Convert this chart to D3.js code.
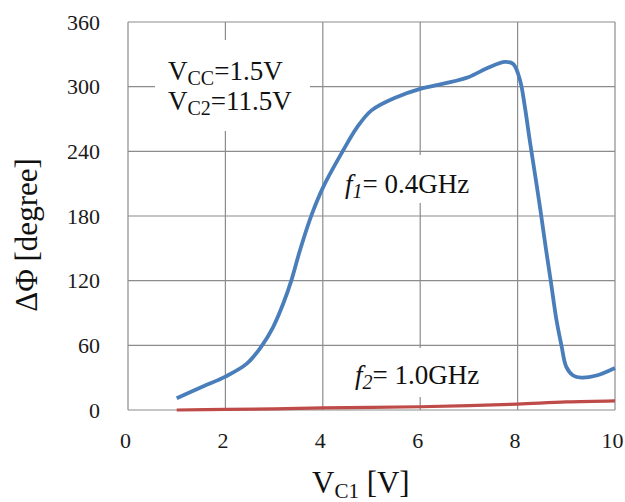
<!DOCTYPE html>
<html>
<head>
<meta charset="utf-8">
<script src="https://cdn.jsdelivr.net/npm/d3@7"></script>
<style>
  body { margin: 0; background: #fff; }
  text, tspan { font-family: 'Liberation Serif', 'Times New Roman', serif; }
</style>
</head>
<body>
<svg width="625" height="502" font-family="Liberation Serif"></svg>
<script>
// data
const f1Vc1 = [1, 1.55, 2, 2.44, 2.74, 2.98, 3.19, 3.36, 3.53, 3.77, 4.01, 4.42, 4.7, 5, 5.5, 6, 6.5, 7, 7.37, 7.74, 7.91, 8.05, 8.15, 8.25, 8.37, 8.47, 8.58, 8.68, 8.8, 8.9, 9, 9.14, 9.31, 9.62, 10];
const f1Phase = [11, 22, 31, 43, 59, 77, 99, 121, 148, 181, 207, 241, 262, 278, 290, 298, 303, 309, 317, 323, 321, 306, 281, 250, 215, 185, 150, 120, 83, 60, 40, 32, 30, 32, 39];
const f2Vc1 = [1, 2, 3, 4, 5, 6, 7, 8, 9, 10];
const f2Phase = [0, 0.5, 1, 2, 2.5, 3, 4, 5.5, 7.5, 8.5];
const xTicks = [0, 2, 4, 6, 8, 10];
const yTicks = [0, 60, 120, 180, 240, 300, 360];

const svg = d3.select('svg');
const width = +svg.attr('width');
const height = +svg.attr('height');
const serif = 'Liberation Serif';

const margin = { top: 22, right: 10, bottom: 92, left: 128 },
    innerWidth = width - margin.left - margin.right,
    innerHeight = height - margin.top - margin.bottom;

const gridColor = '#8c8c8c';

const xScale = d3.scaleLinear().domain([0, 10]).range([0, innerWidth]);
const yScale = d3.scaleLinear().domain([0, 360]).range([innerHeight, 0]);

const chart = svg.append('g')
    .attr('transform', `translate(${margin.left},${margin.top})`);

// grid lines
chart.append('g').selectAll('line').data(yTicks)
    .enter().append('line')
        .attr('x1', 0).attr('x2', innerWidth)
        .attr('y1', d => yScale(d)).attr('y2', d => yScale(d))
        .attr('stroke', gridColor).attr('stroke-width', 1.2);
chart.append('g').selectAll('line').data(xTicks)
    .enter().append('line')
        .attr('x1', d => xScale(d)).attr('x2', d => xScale(d))
        .attr('y1', 0).attr('y2', innerHeight)
        .attr('stroke', gridColor).attr('stroke-width', 1.2);

// white label boxes that cover the grid (under the curves)
const boxes = [
    { x: 155, y: 40, w: 155, h: 91 },
    { x: 338, y: 155, w: 148, h: 48 },
    { x: 348, y: 348, w: 150, h: 49 }
];
chart.append('g').selectAll('rect').data(boxes)
    .enter().append('rect')
        .attr('x', d => d.x - margin.left).attr('y', d => d.y - margin.top)
        .attr('width', d => d.w).attr('height', d => d.h)
        .attr('fill', '#fff');

// axes (labels only, the grid does the lines)
const yAxis = chart.append('g')
    .call(d3.axisLeft(yScale).tickValues(yTicks).tickSize(0).tickPadding(28));
const xAxis = chart.append('g')
    .attr('transform', `translate(0,${innerHeight})`)
    .call(d3.axisBottom(xScale).tickValues(xTicks).tickSize(0).tickPadding(22));
[xAxis, yAxis].forEach(ax => {
    ax.attr('font-family', serif).attr('font-size', 22);
    ax.select('.domain').remove();
    ax.selectAll('text')
        .attr('font-family', serif)
        .attr('fill', '#1a1a1a');
});
xAxis.selectAll('text').attr('dx', -3);

// curves
const line = d3.line()
    .x(d => xScale(d[0]))
    .y(d => yScale(d[1]))
    .curve(d3.curveCatmullRom.alpha(0.5));

chart.append('path')
    .datum(f2Vc1.map((v, i) => [v, f2Phase[i]]))
    .attr('d', line)
    .attr('fill', 'none')
    .attr('stroke', '#be4b48')
    .attr('stroke-width', 3.2);

chart.append('path')
    .datum(f1Vc1.map((v, i) => [v, f1Phase[i]]))
    .attr('d', line)
    .attr('fill', 'none')
    .attr('stroke', '#4a7ebb')
    .attr('stroke-width', 3.8)
    .attr('stroke-linejoin', 'round');

// annotations
const sub = (t, main, s, size, italic) => {
    t.append('tspan').text(main).attr('font-style', italic ? 'italic' : null);
    t.append('tspan').text(s).attr('dy', 5).attr('font-size', size)
        .attr('font-style', italic ? 'italic' : null);
};
const note = (x, y, size) => svg.append('text')
    .attr('x', x).attr('y', y)
    .attr('font-family', serif)
    .attr('font-size', size).attr('fill', '#111');

let t = note(168, 80, 27);
sub(t, 'V', 'CC', 20);
t.append('tspan').text('=1.5V').attr('dy', -5);

t = note(168, 110, 27);
sub(t, 'V', 'C2', 20);
t.append('tspan').text('=11.5V').attr('dy', -5);

t = note(345, 193, 27);
sub(t, 'f', '1', 20, true);
t.append('tspan').text('= 0.4GHz').attr('dy', -5);

t = note(355, 384, 27);
sub(t, 'f', '2', 20, true);
t.append('tspan').text('= 1.0GHz').attr('dy', -5);

// axis titles
const xt = note(312, 493, 31);
sub(xt, 'V', 'C1', 21);
xt.append('tspan').text(' [V]').attr('dy', -5);

svg.append('text')
    .attr('transform', 'translate(37,235) rotate(-90)')
    .attr('text-anchor', 'middle')
    .attr('font-family', serif)
    .attr('font-size', 31).attr('fill', '#111')
    .text('ΔΦ [degree]');
</script>
</body>
</html>
